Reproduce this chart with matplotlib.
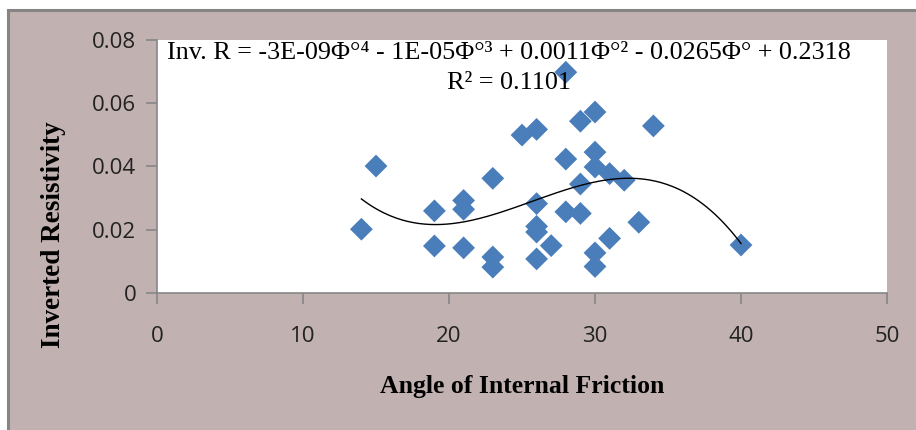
import numpy as np
import matplotlib
matplotlib.use("Agg")
import matplotlib.pyplot as plt
from matplotlib.patches import Rectangle

# angle of internal friction (degrees) and inverted resistivity
phi = [14, 15, 19, 19, 21, 21, 21, 23, 23, 23, 25, 26, 26, 26, 26, 26, 27,
       28, 28, 28, 29, 29, 29, 30, 30, 30, 30, 30, 31, 31, 32, 33, 34, 40]
inv_r = [0.0201, 0.0401, 0.0259, 0.0148, 0.0292, 0.0264, 0.0142, 0.0362,
         0.0113, 0.0081, 0.0499, 0.0517, 0.0282, 0.0210, 0.0192, 0.0107,
         0.0149, 0.0698, 0.0423, 0.0256, 0.0543, 0.0344, 0.0251, 0.0572,
         0.0445, 0.0398, 0.0126, 0.0083, 0.0377, 0.0172, 0.0356, 0.0223,
         0.0528, 0.0151]

x_ticks = [0, 10, 20, 30, 40, 50]
y_ticks = [0, 0.02, 0.04, 0.06, 0.08]
y_tick_labels = ["0", "0.02", "0.04", "0.06", "0.08"]

eq_line = ("Inv. R = -3E-09\u03a6\u00b0\u2074 - 1E-05\u03a6\u00b0\u00b3 + 0.0011\u03a6\u00b0\u00b2"
           " - 0.0265\u03a6\u00b0 + 0.2318")
r2_line = "R\u00b2 = 0.1101"

W, H = 916, 430
fig = plt.figure(figsize=(W / 100, H / 100), dpi=100, facecolor="white")

def fx(px):
    return px / W

def fy(py):
    return 1 - py / H

# grey chart frame
frame = Rectangle((fx(8), -0.1), 1.2, fy(10) + 0.1, transform=fig.transFigure,
                  facecolor="#c1b1b1", edgecolor="#858585", lw=2.2, zorder=-10)
fig.patches.append(frame)

ax = fig.add_axes([fx(157), fy(292.7), fx(730), (292.7 - 40) / H])
ax.set_facecolor("white")
ax.set_zorder(1)

ax.scatter(phi, inv_r, marker="D", s=135, color="#4a7ebb", edgecolors="none", zorder=3)

# 4th order polynomial trend line
coef = np.polyfit(phi, inv_r, 4)
xs = np.linspace(min(phi), max(phi), 200)
ax.plot(xs, np.polyval(coef, xs), color="black", lw=1.0, zorder=4)

ax.set_xlim(0, 50)
ax.set_ylim(0, 0.08)
ax.set_xticks(x_ticks)
ax.set_yticks(y_ticks)
ax.set_yticklabels(y_tick_labels)
for s in ["top", "right"]:
    ax.spines[s].set_visible(False)
for s in ["left", "bottom"]:
    ax.spines[s].set_color("#868686")
    ax.spines[s].set_linewidth(1.2)
ax.tick_params(axis="both", direction="out", length=8, width=1.2, color="#868686",
               labelsize=16, labelcolor="#222222")
ax.tick_params(axis="x", pad=16)
ax.tick_params(axis="y", pad=7)
for lab in ax.get_xticklabels() + ax.get_yticklabels():
    lab.set_family("Open Sans")

# trend line equation, two centred lines at the top of the plot area
serif = ["Liberation Serif", "DejaVu Serif"]
fig.text(fx(509), fy(59), eq_line, ha="center", va="baseline", fontsize=18.8,
         family=serif, zorder=5)
fig.text(fx(509), fy(89), r2_line, ha="center", va="baseline", fontsize=18.8,
         family=serif, zorder=5)

fig.text(fx(54), fy(235), "Inverted Resistivity", rotation=90, ha="center", va="center",
         fontsize=19.5, fontweight="bold", family="Liberation Serif")
fig.text(fx(522), fy(386), "Angle of Internal Friction", ha="center", va="center",
         fontsize=18.5, fontweight="bold", family="Liberation Serif")

fig.savefig("out.png", dpi=100, facecolor=fig.get_facecolor())
